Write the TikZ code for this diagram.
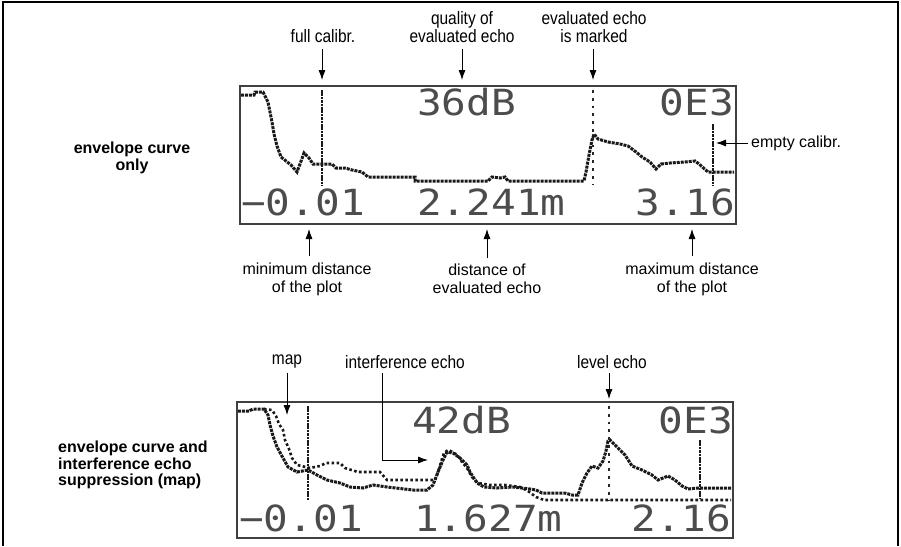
\documentclass[tikz,border=0pt]{standalone}
\usepackage{fontspec}
\setmainfont{Liberation Sans}
\newfontfamily\narrowfont[FakeStretch=0.86]{Liberation Sans}
\newfontfamily\lcdfont[FakeStretch=1.14]{DejaVu Sans Mono}
\usepackage{xcolor}
\usepackage{tikz}
\usetikzlibrary{arrows.meta, positioning}
\tikzstyle{note}     = [font=\fontsize{16}{18}\selectfont, align=center, inner sep=0pt]
\tikzstyle{tallnote} = [font=\narrowfont\fontsize{18}{18}\selectfont, align=center, inner sep=0pt]
\tikzstyle{sidenote} = [font=\bfseries\fontsize{16}{16.5}\selectfont, inner sep=0pt]
\tikzstyle{arrow}    = [-{Latex[length=10pt,width=7pt]}, line width=0.8pt]
\tikzstyle{lcd}      = [draw=black!75, line width=1.4pt]
\tikzstyle{lcdtext}  = [font=\lcdfont\fontsize{36}{36}\selectfont, text=black!70, inner sep=0pt]
\tikzstyle{envelope} = [line width=3pt, black!90, dash pattern=on 3pt off 1pt]
\tikzstyle{mapcurve} = [line width=2.6pt, black!90, dash pattern=on 2.6pt off 2.4pt]
\tikzstyle{cursor}   = [line width=2.8pt, black!90, dash pattern=on 2.6pt off 0.8pt]
\tikzstyle{marker}   = [line width=2.8pt, black!85, dash pattern=on 2.8pt off 5pt]

\begin{document}
\begin{tikzpicture}[x=1pt, y=-1pt]
  \useasboundingbox (0,0) rectangle (901,546);
  % Outer frame
  \draw[line width=2pt] (3,546) -- (3,2) -- (898,2) -- (898,546);

  % Upper display: envelope curve only
  \node[lcd, minimum width=496pt, minimum height=138pt, inner sep=0pt] (disp1) at (488,155) {};
  \node[lcdtext, anchor=base west] (quality1) at (417,115) {36dB};
  \node[lcdtext, anchor=base east] (code1) at (734,115) {0E3};
  \node[lcdtext, anchor=base west] (mindist1) at (241,215) {−0.01};
  \node[lcdtext, anchor=base west] (dist1) at (417,215) {2.241m};
  \node[lcdtext, anchor=base east] (maxdist1) at (735,215) {3.16};
  \draw[envelope] (241,95) -- (254,95) -- (255,92) -- (263,92) -- (268,102) -- (270,112) -- (272,122)
    -- (274,134) -- (277,146) -- (281,157) -- (286,161) -- (291,165) -- (297,172) -- (300,164)
    -- (304,153) -- (309,158) -- (313,164) -- (332,164) -- (336,168) -- (345,168) -- (352,170)
    -- (362,172) -- (368,177) -- (415,177) -- (415,181) -- (488,181) -- (492,177) -- (500,178)
    -- (505,177) -- (508,181) -- (584,181) -- (586,172) -- (589,155) -- (592,140) -- (594,134)
    -- (598,139) -- (608,142) -- (620,144) -- (628,146) -- (636,152) -- (642,157) -- (650,162)
    -- (656,169) -- (661,164) -- (670,163) -- (685,162) -- (695,161) -- (699,164) -- (708,172)
    -- (734,172);
  \draw[cursor] (322,90) -- (322,186);
  \draw[marker] (593,90) -- (593,184);
  \draw[cursor] (713,124) -- (713,186);

  % Labels above and below the upper display
  \coordinate (fullcalTip) at (322,80);
  \coordinate (qualityTip) at (462,80);
  \coordinate (markedTip) at (593,80);
  \coordinate (emptyTip) at (716,143);
  \coordinate (minTip) at (309,229);
  \coordinate (distTip) at (487,229);
  \coordinate (maxTip) at (692,229);
  \node[tallnote] (fullcal) at (323,36) {full calibr.};
  \node[tallnote] (quality) at (462,27) {quality of\\evaluated echo};
  \node[tallnote] (marked) at (594,27) {evaluated echo\\is marked};
  \node[note, anchor=west] (emptycal) at (751,143) {empty calibr.};
  \node[note] (mindist) at (307,279) {minimum distance\\of the plot};
  \node[note] (dist) at (487,279) {distance of\\evaluated echo};
  \node[note] (maxdist) at (692,279) {maximum distance\\of the plot};
  \draw[arrow] ([yshift=-6pt]fullcal.south -| fullcalTip) -- (fullcalTip);
  \draw[arrow] ([yshift=-6pt]quality.south -| qualityTip) -- (qualityTip);
  \draw[arrow] ([yshift=-6pt]marked.south -| markedTip) -- (markedTip);
  \draw[arrow] ([xshift=-3pt]emptycal.west) -- (emptyTip);
  \draw[arrow] ([yshift=6pt]mindist.north -| minTip) -- (minTip);
  \draw[arrow] ([yshift=6pt]dist.north -| distTip) -- (distTip);
  \draw[arrow] ([yshift=6pt]maxdist.north -| maxTip) -- (maxTip);

  % Lower display: envelope curve and map
  \node[lcd, minimum width=496pt, minimum height=136pt, inner sep=0pt] (disp2) at (485,470) {};
  \node[lcdtext, anchor=base west] (quality2) at (412,433) {42dB};
  \node[lcdtext, anchor=base east] (code2) at (733,433) {0E3};
  \node[lcdtext, anchor=base west] (mindist2) at (239,531) {−0.01};
  \node[lcdtext, anchor=base west] (dist2) at (414,531) {1.627m};
  \node[lcdtext, anchor=base east] (maxdist2) at (731,531) {2.16};
  \draw[envelope] (238,411) -- (249,411) -- (253,409) -- (264,409) -- (268,415) -- (270,425)
    -- (273,436) -- (277,447) -- (283,458) -- (288,467) -- (297,472) -- (308,470) -- (317,475)
    -- (327,480) -- (340,483) -- (350,487) -- (363,488) -- (373,485) -- (387,487) -- (413,490)
    -- (427,490) -- (433,485) -- (438,472) -- (443,460) -- (447,452) -- (453,453) -- (460,458)
    -- (467,465) -- (470,472) -- (477,483) -- (484,487) -- (497,488) -- (513,487) -- (530,489)
    -- (536,490) -- (542,493) -- (565,493) -- (572,495) -- (578,495) -- (582,483) -- (587,473)
    -- (592,466) -- (598,468) -- (603,461) -- (606,451) -- (608,441) -- (610,440) -- (618,448)
    -- (625,455) -- (632,466) -- (642,470) -- (652,475) -- (658,480) -- (668,476) -- (675,480)
    -- (682,486) -- (688,489) -- (698,488) -- (731,488);
  \draw[mapcurve] (264,409) -- (272,410) -- (276,416) -- (279,424) -- (283,430) -- (285,440)
    -- (289,449) -- (292,458) -- (297,465) -- (310,468) -- (320,466) -- (326,463) -- (340,463)
    -- (345,468) -- (358,472) -- (380,472) -- (387,480) -- (435,480) -- (438,472) -- (441,462)
    -- (444,453) -- (448,450) -- (453,452) -- (458,456) -- (462,462) -- (467,468) -- (472,477)
    -- (478,483) -- (490,485) -- (505,485) -- (520,487) -- (528,491) -- (536,497) -- (544,500)
    -- (731,500);
  \draw[cursor] (308,406) -- (308,501);
  \draw[marker] (609,406) -- (609,501);
  \draw[cursor] (700,440) -- (700,499);

  % Labels of the lower display
  \coordinate (mapTip) at (287,415);
  \coordinate (interfBend) at (382,460);
  \coordinate (interfTip) at (428,460);
  \coordinate (levelTip) at (609,399);
  \node[tallnote] (map) at (287,362) {map};
  \node[tallnote] (interf) at (405,362) {interference echo};
  \node[tallnote] (level) at (612,362) {level echo};
  \draw[arrow] ([yshift=-4pt]map.south -| mapTip) -- (mapTip);
  \draw[arrow] ([yshift=-4pt]interf.south -| interfBend) -- (interfBend) -- (interfTip);
  \draw[arrow] ([yshift=-4pt]level.south -| levelTip) -- (levelTip);

  % Row captions
  \node[sidenote, align=center] (caption1) at (132,158) {envelope curve\\only};
  \node[sidenote, align=left, anchor=west] (caption2) at (58,465) {envelope curve and\\interference echo\\suppression (map)};
\end{tikzpicture}
\end{document}
